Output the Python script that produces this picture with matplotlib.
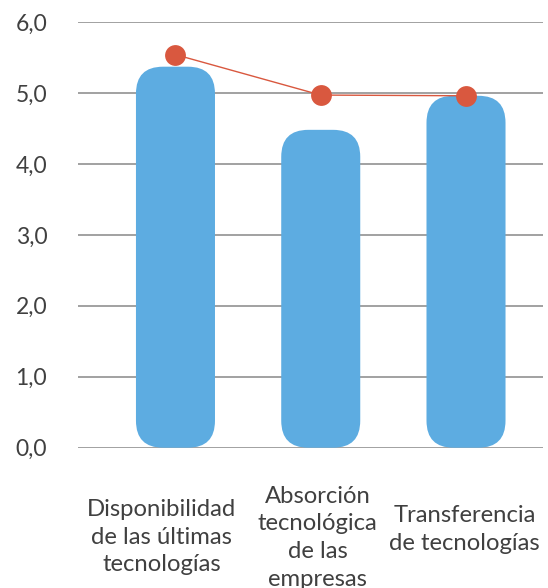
import numpy as np
import matplotlib
matplotlib.use("Agg")
import matplotlib.pyplot as plt
from matplotlib.patches import FancyBboxPatch

plt.rcParams['font.family'] = ['Lato', 'DejaVu Sans']

# Datos
categorias = [
    "Disponibilidad\nde las últimas\ntecnologías",
    "Absorción\ntecnológica\nde las\nempresas",
    "Transferencia\nde tecnologías",
]
valores_barras = [5.37, 4.48, 4.96]
valores_linea = [5.54, 4.97, 4.96]
ticks_y = [0, 1, 2, 3, 4, 5, 6]
etiquetas_y = ["0,0", "1,0", "2,0", "3,0", "4,0", "5,0", "6,0"]

azul = "#5DACE1"
rojo = "#D9583F"
texto = "#404040"

fig = plt.figure(figsize=(5.48, 5.88), dpi=100)
ax = fig.add_axes([0.1418, 0.2386, 0.8496, 0.7240])

x = np.arange(len(categorias))
ancho = 0.544
ax.set_xlim(-0.673, 2.532)
ax.set_ylim(0, 6)

# Barras redondeadas (se dibujan con bar y se cambian por FancyBboxPatch)
barras = ax.bar(x, valores_barras, width=ancho, color=azul, zorder=2)
fig_w, fig_h = fig.get_size_inches() * fig.dpi
pos = ax.get_position()
px_x = (2.532 + 0.673) / (pos.width * fig_w)
px_y = 6.0 / (pos.height * fig_h)
aspecto = px_y / px_x
radio = 27 * px_x
for b in barras:
    b.remove()
    caja = FancyBboxPatch(
        (b.get_x(), b.get_y()), b.get_width(), b.get_height(),
        boxstyle=f"round,pad=0,rounding_size={radio}",
        mutation_aspect=aspecto,
        facecolor=azul, edgecolor="none", zorder=2,
    )
    ax.add_patch(caja)

# Linea con puntos
ax.plot(x, valores_linea, color=rojo, linewidth=1.0, marker="o",
        markersize=15, markeredgewidth=0, zorder=3)

# Ejes
ax.set_yticks(ticks_y)
ax.set_yticklabels(etiquetas_y, fontsize=16.5, color=texto)
ax.tick_params(axis="y", length=0, pad=22)
ax.set_xticks([])
ax.yaxis.grid(True, color="#888888", linewidth=1.1, zorder=0)
ax.set_axisbelow(True)
for s in ax.spines.values():
    s.set_visible(False)

# Etiquetas de categorias
desplaz = [-0.096, -0.02, -0.01]
alto_sup = [-0.120, -0.089, -0.134]
for xi, d, yt, cat in zip(x, desplaz, alto_sup, categorias):
    ax.text(xi + d, yt, cat, transform=ax.get_xaxis_transform(),
            ha="center", va="top", multialignment="center",
            fontsize=17.2, color=texto, linespacing=1.4)

plt.savefig("out.png", dpi=100)
